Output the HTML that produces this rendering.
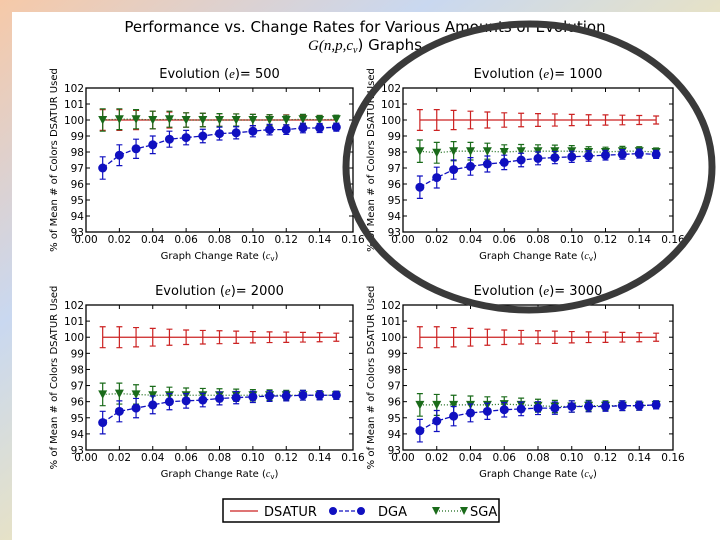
<!DOCTYPE html>
<html><head><meta charset="utf-8"><style>
body{margin:0;width:720px;height:540px;overflow:hidden;background:#fff;font-family:"Liberation Sans",sans-serif}
svg text{font-family:"DejaVu Sans","Liberation Sans",sans-serif}
</style></head><body>
<svg id="c" width="720" height="540" xmlns="http://www.w3.org/2000/svg">
<defs>
<linearGradient id="bgL" x1="0" y1="0" x2="1" y2="1">
<stop offset="0" stop-color="#f6c9a8"/><stop offset="0.3" stop-color="#c9d8f0"/><stop offset="0.6" stop-color="#f3e6b5"/><stop offset="1" stop-color="#e8c8e8"/></linearGradient>
</defs>
<rect x="0" y="0" width="720" height="540" fill="url(#bgL)"/>
<rect x="12" y="12" width="708" height="528" fill="#fff"/>
<text x="365" y="32" font-size="15" text-anchor="middle">Performance vs. Change Rates for Various Amounts of Evolution</text>
<text x="365" y="50" font-size="15" text-anchor="middle"><tspan font-family="Liberation Serif" font-style="italic">G(n,p,c</tspan><tspan font-family="Liberation Serif" font-style="italic" font-size="10" dy="3">v</tspan><tspan dy="-3">) Graphs</tspan></text>
<g id="panels"></g>
<g>
<rect x="223" y="499" width="276" height="23" fill="#fff" stroke="#000" stroke-width="1.5"/>
<line x1="230" y1="511" x2="258" y2="511" stroke="#cc2222" stroke-width="1.2"/>
<text x="264" y="516" font-size="13">DSATUR</text>
<line x1="333" y1="511" x2="361" y2="511" stroke="#1010c0" stroke-dasharray="4,2" stroke-width="1.2"/>
<circle cx="333" cy="511" r="4" fill="#1010c0"/>
<circle cx="361" cy="511" r="4" fill="#1010c0"/>
<text x="378" y="516" font-size="13">DGA</text>
<line x1="436" y1="511" x2="464" y2="511" stroke="#1a6b1a" stroke-dasharray="1,2" stroke-width="1.2"/>
<path d="M432,507 L440,507 L436,515Z" fill="#1a6b1a"/>
<path d="M460,507 L468,507 L464,515Z" fill="#1a6b1a"/>
<text x="470" y="516" font-size="13">SGA</text>
</g>
<ellipse cx="529" cy="167" rx="183" ry="143" fill="none" stroke="#3a3a3a" stroke-width="7"/>
</svg>
<script>
const rates=[0.01,0.02,0.03,0.04,0.05,0.06,0.07,0.08,0.09,0.10,0.11,0.12,0.13,0.14,0.15];
const evolutions=["500","1000","2000","3000"];
const dsaturVals=[100,100,100,100,100,100,100,100,100,100,100,100,100,100,100];
const dsaturErr=[0.65,0.65,0.6,0.55,0.5,0.45,0.42,0.4,0.38,0.35,0.33,0.32,0.3,0.28,0.25];
const dga500=[97.0,97.8,98.2,98.45,98.8,98.9,99.0,99.15,99.2,99.3,99.4,99.4,99.5,99.5,99.55];
const sga500=[100,100.05,100.05,100,100.05,100,100,100,100,100,100,100,100.05,100,100.05];
const dga1000=[95.8,96.4,96.9,97.1,97.25,97.35,97.5,97.6,97.65,97.7,97.75,97.8,97.85,97.9,97.85];
const sga1000=[98.05,97.95,98.05,98.05,98.05,98.0,98.05,98.05,98.05,98.05,98.0,98.0,98.05,98.05,98.0];
const dga2000=[94.7,95.4,95.6,95.8,96.0,96.05,96.1,96.2,96.25,96.3,96.35,96.35,96.4,96.4,96.4];
const sga2000=[96.45,96.5,96.45,96.4,96.4,96.4,96.4,96.4,96.4,96.4,96.4,96.4,96.4,96.4,96.4];
const dga3000=[94.2,94.8,95.1,95.3,95.4,95.5,95.55,95.6,95.6,95.7,95.7,95.7,95.75,95.75,95.8];
const sga3000=[95.8,95.8,95.8,95.8,95.8,95.85,95.8,95.75,95.7,95.7,95.75,95.75,95.75,95.75,95.8];
const algErr=[0.7,0.65,0.6,0.55,0.5,0.45,0.42,0.4,0.38,0.35,0.33,0.3,0.3,0.28,0.25];
const xTicks=[0,0.02,0.04,0.06,0.08,0.10,0.12,0.14,0.16];
const yTicks=[93,94,95,96,97,98,99,100,101,102];
const dgaSets=[dga500,dga1000,dga2000,dga3000];
const sgaSets=[sga500,sga1000,sga2000,sga3000];
const NS="http://www.w3.org/2000/svg";
const root=document.getElementById('panels');
function mk(tag,attrs,parent){const e=document.createElementNS(NS,tag);for(const k in attrs)e.setAttribute(k,attrs[k]);(parent||root).appendChild(e);return e;}
const boxes=[[86,88,353,232],[403,88,673,232],[86,305,353,450],[403,305,673,450]];
boxes.forEach((b,pi)=>{
  const [L,T,R,B]=b;
  const g=mk('g',{});
  
  
  const sx=v=>L+(v-0)/(0.16)*(R-L);
  const sy=v=>B-(v-93)/9*(B-T);
  mk('rect',{x:L,y:T,width:R-L,height:B-T,fill:'#fff',stroke:'#000','stroke-width':1.3},g);
  xTicks.forEach(t=>{
    const x=sx(t);
    mk('line',{x1:x,y1:B,x2:x,y2:B-4,stroke:'#000'},g);mk('line',{x1:x,y1:T,x2:x,y2:T+4,stroke:'#000'},g);
    const tx=mk('text',{x:x,y:B+11,'font-size':10.5,'text-anchor':'middle'},g);tx.textContent=t.toFixed(2);
    
    
  });
  yTicks.forEach(t=>{
    const y=sy(t);
    mk('line',{x1:L,y1:y,x2:L+4,y2:y,stroke:'#000'},g);mk('line',{x1:R,y1:y,x2:R-4,y2:y,stroke:'#000'},g);
    const tx=mk('text',{x:L-2,y:y+4,'font-size':10.5,'text-anchor':'end'},g);tx.textContent=t;
    
    
  });
  const ttl=mk('text',{x:(L+R)/2,y:T-10,'font-size':13,'text-anchor':'middle'},g);
  ttl.innerHTML='Evolution (<tspan font-family="Liberation Serif" font-style="italic">e</tspan>)= '+evolutions[pi];
  
  
  const xl=mk('text',{x:(L+R)/2,y:B+27,'font-size':10,'text-anchor':'middle'},g);
  xl.innerHTML='Graph Change Rate (<tspan font-family="Liberation Serif" font-style="italic">c</tspan><tspan font-size="7" dy="2">v</tspan><tspan dy="-2">)</tspan>';
  
  
  const yl=mk('text',{x:0,y:0,'font-size':10,'text-anchor':'middle',transform:`translate(${L-29},${(T+B)/2}) rotate(-90)`},g);
  yl.textContent='% of Mean # of Colors DSATUR Used';
  
  
  function series(vals,err,color,dash,marker,name){
    const sg=mk('g',{},g);
    
    
    mk('polyline',{points:rates.map((r,i)=>sx(r)+','+sy(vals[i])).join(' '),fill:'none',stroke:color,'stroke-width':1.3,'stroke-dasharray':dash},sg);
    rates.forEach((r,i)=>{
      const x=sx(r),y1=sy(vals[i]+err[i]),y2=sy(vals[i]-err[i]);
      mk('path',{d:`M${x},${y1}V${y2}M${x-3},${y1}h6M${x-3},${y2}h6`,stroke:color,'stroke-width':1.2,fill:'none'},sg);
      const y=sy(vals[i]);
      if(marker==='o'){const m=mk('circle',{cx:x,cy:y,r:4.5,fill:color},sg);}
      else if(marker==='v'){const m=mk('path',{d:`M${x-4.5},${y-4}L${x+4.5},${y-4}L${x},${y+4.5}Z`,fill:color},sg);}
    });
  }
  series(dsaturVals,dsaturErr,'#cc2222','none','','dsatur');
  series(sgaSets[pi],algErr,'#1a6b1a','1,2','v','sga');
  series(dgaSets[pi],algErr,'#1010c0','5,2','o','dga');
});
</script>
</body></html>
